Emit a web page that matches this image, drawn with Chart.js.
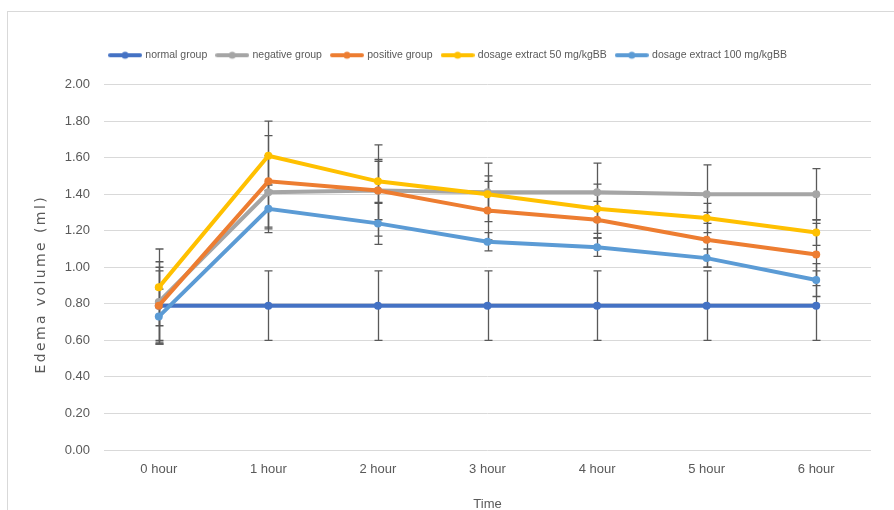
<!DOCTYPE html>
<html>
<head>
<meta charset="utf-8">
<script src="https://cdn.jsdelivr.net/npm/chart.js@4"></script>
<style>
  html, body { margin: 0; padding: 0; background: #fff; }
  #wrap { position: relative; width: 894px; height: 510px; }
  #frame { position: absolute; left: 7px; top: 11px; width: 900px; height: 520px;
           border-left: 1px solid #d9d9d9; border-top: 1px solid #d9d9d9; pointer-events: none; }
</style>
</head>
<body>
<div id="wrap">
  <canvas id="chart" width="894" height="510"></canvas>
  <div id="frame"></div>
</div>
<script>
// categories
const hours = ["0 hour", "1 hour", "2 hour", "3 hour", "4 hour", "5 hour", "6 hour"];

// mean edema volume (ml)
const normalGroup   = [0.79, 0.79, 0.79, 0.79, 0.79, 0.79, 0.79];
const negativeGroup = [0.81, 1.41, 1.42, 1.41, 1.41, 1.40, 1.40];
const positiveGroup = [0.79, 1.47, 1.42, 1.31, 1.26, 1.15, 1.07];
const dosage50      = [0.89, 1.61, 1.47, 1.40, 1.32, 1.27, 1.19];
const dosage100     = [0.73, 1.32, 1.24, 1.14, 1.11, 1.05, 0.93];

// error (+/-)
const normalErr   = [0.19, 0.19, 0.19, 0.19, 0.19, 0.19, 0.19];
const negativeErr = [0.22, 0.20, 0.16, 0.16, 0.16, 0.16, 0.14];
const positiveErr = [0.21, 0.25, 0.25, 0.16, 0.10, 0.15, 0.17];
const dosage50Err = [0.21, 0.19, 0.12, 0.10, 0.135, 0.08, 0.07];
const dosage100Err = [0.15, 0.13, 0.115, 0.05, 0.05, 0.05, 0.09];

const seriesNames = ["normal group", "negative group", "positive group",
  "dosage extract 50 mg/kgBB", "dosage extract 100 mg/kgBB"];
const seriesData = [normalGroup, negativeGroup, positiveGroup, dosage50, dosage100];
const seriesErr = [normalErr, negativeErr, positiveErr, dosage50Err, dosage100Err];
const colors = ["#4472c4", "#a5a5a5", "#ed7d31", "#ffc000", "#5b9bd5"];

const FONT = "'Liberation Sans', Arial, sans-serif";

/* legend marker: line with a dot */
function legendMark(color) {
  const c = document.createElement("canvas");
  c.width = 34; c.height = 10;
  const g = c.getContext("2d");
  g.strokeStyle = color; g.lineWidth = 4; g.lineCap = "round";
  g.beginPath(); g.moveTo(2, 5); g.lineTo(32, 5); g.stroke();
  g.fillStyle = color;
  g.beginPath(); g.arc(17, 5, 3.5, 0, Math.PI * 2); g.fill();
  return c;
}

/* extra room under the legend, and nudge it right */
const legendGap = {
  id: "legendGap",
  beforeInit(chart) {
    const fit = chart.legend.fit;
    chart.legend.fit = function () {
      fit.call(this);
      this.height += 14;
    };
  },
  afterLayout(chart) {
    chart.legend.left += 13;
    chart.legend.right += 13;
  },
};

/* error bars drawn from the data through the scales */
const errorBars = {
  id: "errorBars",
  beforeDatasetsDraw(chart) {
    const { ctx, scales: { x, y } } = chart;
    ctx.save();
    ctx.strokeStyle = "#595959";
    ctx.lineWidth = 1.3;
    seriesData.forEach((vals, si) => {
      vals.forEach((v, i) => {
        const e = seriesErr[si][i];
        const px = Math.round(x.getPixelForValue(i)) + 0.5;
        const top = y.getPixelForValue(v + e);
        const bot = y.getPixelForValue(v - e);
        ctx.beginPath();
        ctx.moveTo(px, top); ctx.lineTo(px, bot);
        ctx.moveTo(px - 4, top); ctx.lineTo(px + 4, top);
        ctx.moveTo(px - 4, bot); ctx.lineTo(px + 4, bot);
        ctx.stroke();
      });
    });
    ctx.restore();
  },
};

/* y title, spaced out like the original */
const yTitle = {
  id: "yTitle",
  afterDraw(chart) {
    const { ctx, chartArea } = chart;
    ctx.save();
    ctx.translate(41, (chartArea.top + chartArea.bottom) / 2 + 17);
    ctx.rotate(-Math.PI / 2);
    ctx.font = "14px 'DejaVu Sans', sans-serif";
    ctx.letterSpacing = "2.4px";
    ctx.fillStyle = "#595959";
    ctx.textAlign = "center";
    ctx.textBaseline = "middle";
    ctx.fillText("Edema volume (ml)", 0, 0);
    ctx.restore();
  },
};

new Chart(document.getElementById("chart"), {
  type: "line",
  data: {
    labels: hours,
    datasets: seriesData.map((d, i) => ({
      label: seriesNames[i],
      data: d,
      borderColor: colors[i],
      backgroundColor: colors[i],
      borderWidth: 4,
      pointRadius: 4,
      pointHoverRadius: 4,
      pointBorderWidth: 0,
      pointStyle: "circle",
      tension: 0,
      order: 4 - i,
    })),
  },
  options: {
    responsive: false,
    animation: false,
    layout: { padding: { left: 0, right: 23, top: 40, bottom: 0 } },
    plugins: {
      tooltip: { enabled: false },
      legend: {
        position: "top",
        labels: {
          usePointStyle: true,
          pointStyleWidth: 30,
          padding: 10,
          color: "#595959",
          font: { family: FONT, size: 10.5 },
          sort: (a, b) => a.datasetIndex - b.datasetIndex,
          generateLabels: (chart) =>
            chart.data.datasets.map((ds, i) => ({
              text: ds.label,
              datasetIndex: i,
              pointStyle: legendMark(colors[i]),
              fillStyle: colors[i],
              strokeStyle: colors[i],
              lineWidth: 0,
              fontColor: "#595959",
            })),
        },
      },
    },
    scales: {
      x: {
        offset: true,
        grid: { display: false, drawTicks: false },
        border: { display: false },
        ticks: { color: "#595959", font: { family: FONT, size: 13 }, padding: 12 },
        title: { display: true, text: "Time", color: "#595959",
                 font: { family: FONT, size: 13 }, padding: { top: 6, bottom: -2 } },
        afterFit: (s) => { s.height = 60; },
      },
      y: {
        min: 0,
        max: 2,
        grid: { color: "#d9d9d9", lineWidth: 1, drawTicks: false },
        border: { display: false },
        ticks: {
          stepSize: 0.2,
          color: "#595959",
          font: { family: FONT, size: 13 },
          padding: 14,
          callback: (v) => Number(v).toFixed(2),
        },
        afterFit: (s) => { s.width = 104; },
      },
    },
  },
  plugins: [legendGap, errorBars, yTitle],
});
</script>
</body>
</html>
